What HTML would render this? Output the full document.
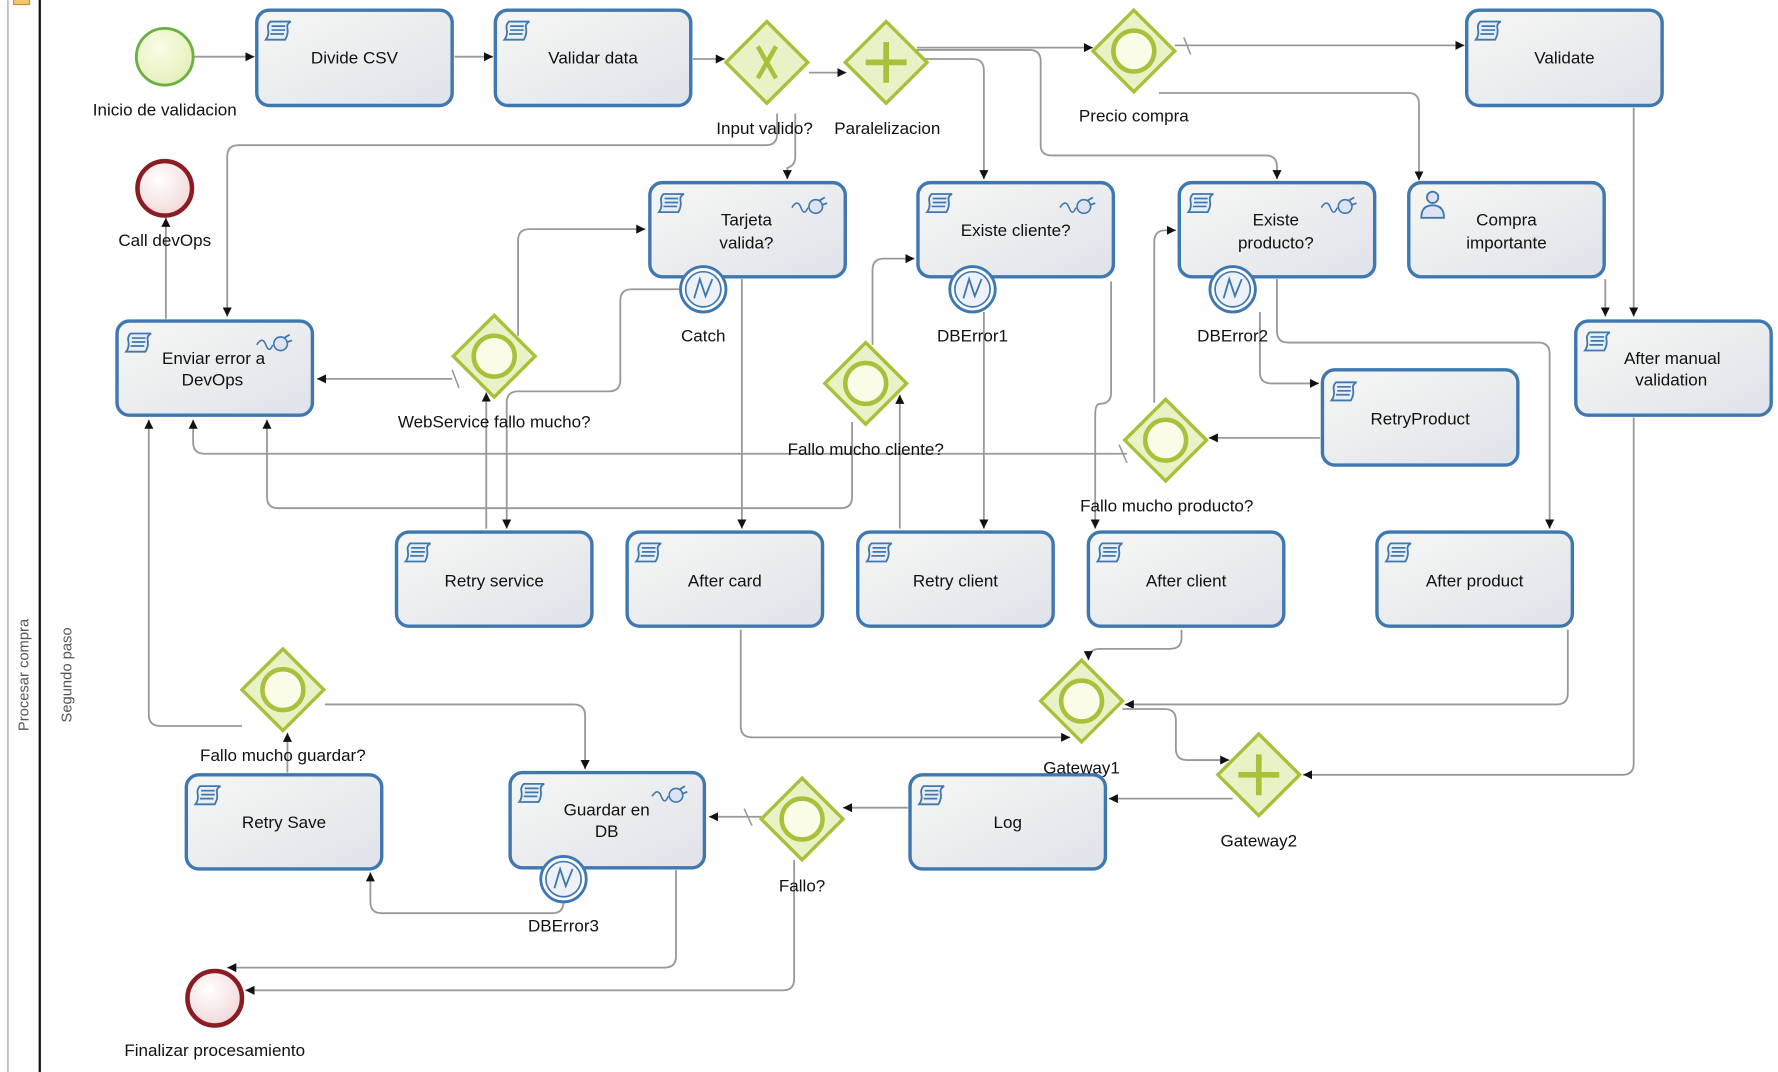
<!DOCTYPE html>
<html><head><meta charset="utf-8"><style>
html,body{margin:0;padding:0;background:#fff;}
svg{display:block;}
text{font-family:"Liberation Sans",sans-serif;font-size:15px;fill:#111;}
.t{text-anchor:middle;}
.c{fill:none;stroke:#999;stroke-width:1.6;}
</style></head><body>
<svg width="1778" height="1072" viewBox="0 0 1565 945" preserveAspectRatio="none" xmlns="http://www.w3.org/2000/svg">
<defs>
<linearGradient id="tg" x1="0" y1="0" x2="1" y2="1"><stop offset="0" stop-color="#f6f7f4"/><stop offset="1" stop-color="#e0e2ea"/></linearGradient>
<radialGradient id="gg" cx="0.4" cy="0.35" r="0.7"><stop offset="0" stop-color="#fbfce8"/><stop offset="1" stop-color="#e4efb8"/></radialGradient>
<radialGradient id="rg" cx="0.4" cy="0.35" r="0.7"><stop offset="0" stop-color="#fff"/><stop offset="1" stop-color="#f2d6d6"/></radialGradient>
<marker id="a" viewBox="0 0 10 10" refX="10" refY="5" markerWidth="8" markerHeight="8" orient="auto" markerUnits="userSpaceOnUse"><path d="M0,0 L10,5 L0,10z" fill="#111"/></marker>
<g id="scr"><path d="M4,2 H22 Q18,4 19,8 Q20,13 17,18 H0 Q3,14 2,9 Q1,5 4,2z" fill="#e8eef6" stroke="#3f78b0" stroke-width="1.6"/><path d="M5,6H17M5,9.5H17M4,13H16" stroke="#3f78b0" stroke-width="1.5"/></g>
<g id="plug"><path d="M0,8 Q5,0 8,8 Q11,16 14,8" fill="none" stroke="#3f78b0" stroke-width="1.4"/><circle cx="21" cy="7" r="6" fill="#dde3f3" stroke="#3f78b0" stroke-width="1.4"/><path d="M24,2L29,-1M26,6L31,4" stroke="#3f78b0" stroke-width="1.6"/></g>
<g id="err"><circle r="20" fill="#fff" stroke="#3f78b0" stroke-width="2.5"/><circle r="15.5" fill="#eef2f8" stroke="#3f78b0" stroke-width="1.5"/><path d="M-8,8 L-3,-9 L2,6 L8,-9" fill="none" stroke="#3f78b0" stroke-width="1.6"/></g>
<g id="gw"><path d="M0,-36 L36,0 L0,36 L-36,0z" fill="#e9f1c6" stroke="#a7c13a" stroke-width="3"/></g>
<g id="gwe"><use href="#gw"/><circle r="18" fill="#fbfce8" stroke="#a7c13a" stroke-width="4"/></g>
</defs>

<!-- pool -->
<line x1="7" y1="0" x2="7" y2="945" stroke="#999" stroke-width="1"/>
<line x1="35" y1="0" x2="35" y2="945" stroke="#111" stroke-width="2"/>
<rect x="12" y="-4" width="14" height="8" fill="#f5c36b" stroke="#c89030"/>
<text transform="translate(25,595) rotate(-90)" class="t" style="font-size:13px;fill:#555">Procesar compra</text>
<text transform="translate(63,595) rotate(-90)" class="t" style="font-size:13px;fill:#555">Segundo paso</text>

<!-- connectors -->
<g class="c" marker-end="url(#a)">
<path d="M170,50H224"/>
<path d="M400,50H434"/>
<path d="M610,52H638"/>
<path d="M712,64H745"/>
<path d="M807,42H962"/>
<path d="M1034,40H1289"/>
<path d="M1020,82H1240Q1249,82 1249,92V159"/>
<path d="M807,52H856Q866,52 866,62V158"/>
<path d="M807,44H906Q916,44 916,54V128Q916,137 926,137H1114Q1124,137 1124,147V158"/>
<path d="M684,100V118Q684,128 674,128H210Q200,128 200,138V279"/>
<path d="M700,100V138Q700,146 693,148V158"/>
<path d="M146,281V192"/>
<path d="M398,334H279"/>
<path d="M456,296V212Q456,202 466,202H568"/>
<path d="M599,255H556Q546,255 546,265V335Q546,345 536,345H456Q446,345 446,355V466"/>
<path d="M428,466V346"/>
<path d="M653,246V466"/>
<path d="M768,304V238Q768,228 778,228H805"/>
<path d="M792,466V348"/>
<path d="M750,372V438Q750,448 740,448H245Q235,448 235,438V370"/>
<path d="M866,275V466"/>
<path d="M978,248V346Q978,356 968,356Q964,356 964,366V466"/>
<path d="M1016,355V213Q1016,203 1026,203H1035"/>
<path d="M1162,386H1064"/>
<path d="M992,400H180Q170,400 170,390V370"/>
<path d="M1109,275V328Q1109,338 1119,338H1161"/>
<path d="M1124,246V292Q1124,302 1134,302H1354Q1364,302 1364,312V466"/>
<path d="M1438,95V279"/>
<path d="M1413,246V279"/>
<path d="M1438,368V673Q1438,683 1428,683H1147"/>
<path d="M1040,555V562Q1040,572 1030,572H968Q958,572 958,582"/>
<path d="M1380,555V611Q1380,621 1370,621H990"/>
<path d="M652,555V640Q652,650 662,650H942"/>
<path d="M988,625H1025Q1035,625 1035,635V660Q1035,670 1045,670H1082"/>
<path d="M1085,704H976"/>
<path d="M799,712H742"/>
<path d="M670,720H624"/>
<path d="M699,758V863Q699,873 689,873H216"/>
<path d="M595,767V843Q595,853 585,853H200"/>
<path d="M496,795V795Q496,805 486,805H336Q326,805 326,795V769"/>
<path d="M253,681V646"/>
<path d="M286,621H505Q515,621 515,631V678"/>
<path d="M213,640H141Q131,640 131,630V370"/>
</g>
<g stroke="#999" stroke-width="1.4">
<path d="M1042,33L1048,48"/><path d="M398,326L404,342"/><path d="M985,392L992,408"/><path d="M655,713L662,728"/>
</g>

<!-- tasks -->
<g fill="url(#tg)" stroke="#3f78b0" stroke-width="3">
<rect x="226" y="9" width="172" height="84" rx="11"/>
<rect x="436" y="9" width="172" height="84" rx="11"/>
<rect x="1291" y="9" width="172" height="84" rx="11"/>
<rect x="572" y="161" width="172" height="83" rx="11"/>
<rect x="808" y="161" width="172" height="83" rx="11"/>
<rect x="1038" y="161" width="172" height="83" rx="11"/>
<rect x="1240" y="161" width="172" height="83" rx="11"/>
<rect x="103" y="283" width="172" height="83" rx="11"/>
<rect x="1387" y="283" width="172" height="83" rx="11"/>
<rect x="1164" y="326" width="172" height="84" rx="11"/>
<rect x="349" y="469" width="172" height="83" rx="11"/>
<rect x="552" y="469" width="172" height="83" rx="11"/>
<rect x="755" y="469" width="172" height="83" rx="11"/>
<rect x="958" y="469" width="172" height="83" rx="11"/>
<rect x="1212" y="469" width="172" height="83" rx="11"/>
<rect x="164" y="683" width="172" height="83" rx="11"/>
<rect x="449" y="681" width="171" height="84" rx="11"/>
<rect x="801" y="683" width="172" height="83" rx="11"/>
</g>
<use href="#scr" x="234" y="17"/><use href="#scr" x="444" y="17"/><use href="#scr" x="1299" y="17"/>
<use href="#scr" x="580" y="169"/><use href="#scr" x="816" y="169"/><use href="#scr" x="1046" y="169"/>
<use href="#scr" x="111" y="292"/><use href="#scr" x="1395" y="291"/><use href="#scr" x="1172" y="335"/>
<use href="#scr" x="357" y="477"/><use href="#scr" x="560" y="477"/><use href="#scr" x="763" y="477"/>
<use href="#scr" x="966" y="477"/><use href="#scr" x="1220" y="477"/><use href="#scr" x="172" y="691"/>
<use href="#scr" x="457" y="689"/><use href="#scr" x="809" y="691"/>
<use href="#plug" x="697" y="175"/><use href="#plug" x="933" y="175"/><use href="#plug" x="1163" y="175"/>
<use href="#plug" x="226" y="296"/><use href="#plug" x="574" y="694"/>
<g fill="#dde3f3" stroke="#3f78b0" stroke-width="1.6"><circle cx="1261" cy="174" r="5"/><path d="M1251,192Q1251,181 1261,181Q1271,181 1271,192z"/></g>

<g class="t">
<text x="312" y="56">Divide CSV</text>
<text x="522" y="56">Validar data</text>
<text x="1377" y="56">Validate</text>
<text x="657" y="199">Tarjeta</text><text x="657" y="219">valida?</text>
<text x="894" y="208">Existe cliente?</text>
<text x="1123" y="199">Existe</text><text x="1123" y="219">producto?</text>
<text x="1326" y="199">Compra</text><text x="1326" y="219">importante</text>
<text x="188" y="321">Enviar error a</text><text x="187" y="340">DevOps</text>
<text x="1472" y="321">After manual</text><text x="1471" y="340">validation</text>
<text x="1250" y="374">RetryProduct</text>
<text x="435" y="517">Retry service</text>
<text x="638" y="517">After card</text>
<text x="841" y="517">Retry client</text>
<text x="1044" y="517">After client</text>
<text x="1298" y="517">After product</text>
<text x="250" y="730">Retry Save</text>
<text x="534" y="719">Guardar en</text><text x="534" y="738">DB</text>
<text x="887" y="730">Log</text>
</g>

<!-- events -->
<circle cx="145" cy="50" r="25" fill="url(#gg)" stroke="#6ab043" stroke-width="2.5"/>
<circle cx="145" cy="166" r="24" fill="url(#rg)" stroke="#8c1c24" stroke-width="4"/>
<circle cx="189" cy="880" r="24" fill="url(#rg)" stroke="#8c1c24" stroke-width="4"/>
<use href="#err" x="619" y="255"/><use href="#err" x="856" y="255"/><use href="#err" x="1085" y="255"/><use href="#err" x="496" y="775"/>

<!-- gateways -->
<use href="#gw" x="675" y="55"/><path d="M667,41L683,69M683,41L667,69" stroke="#a7c13a" stroke-width="4"/>
<use href="#gw" x="780" y="55"/><path d="M780,37V73M762,55H798" stroke="#a7c13a" stroke-width="5"/>
<use href="#gwe" x="998" y="45"/>
<use href="#gwe" x="435" y="314"/>
<use href="#gwe" x="762" y="338"/>
<use href="#gwe" x="1026" y="388"/>
<use href="#gwe" x="952" y="618"/>
<use href="#gw" x="1108" y="683"/><path d="M1108,665V701M1090,683H1126" stroke="#a7c13a" stroke-width="5"/>
<use href="#gwe" x="249" y="608"/>
<use href="#gwe" x="706" y="722"/>

<g class="t">
<text x="145" y="102">Inicio de validacion</text>
<text x="145" y="217">Call devOps</text>
<text x="189" y="931">Finalizar procesamiento</text>
<text x="619" y="301">Catch</text>
<text x="856" y="301">DBError1</text>
<text x="1085" y="301">DBError2</text>
<text x="496" y="821">DBError3</text>
<text x="673" y="118">Input valido?</text>
<text x="781" y="118">Paralelizacion</text>
<text x="998" y="107">Precio compra</text>
<text x="435" y="377">WebService fallo mucho?</text>
<text x="762" y="401">Fallo mucho cliente?</text>
<text x="1027" y="451">Fallo mucho producto?</text>
<text x="952" y="682">Gateway1</text>
<text x="1108" y="746">Gateway2</text>
<text x="249" y="671">Fallo mucho guardar?</text>
<text x="706" y="786">Fallo?</text>
</g>
</svg>
</body></html>
